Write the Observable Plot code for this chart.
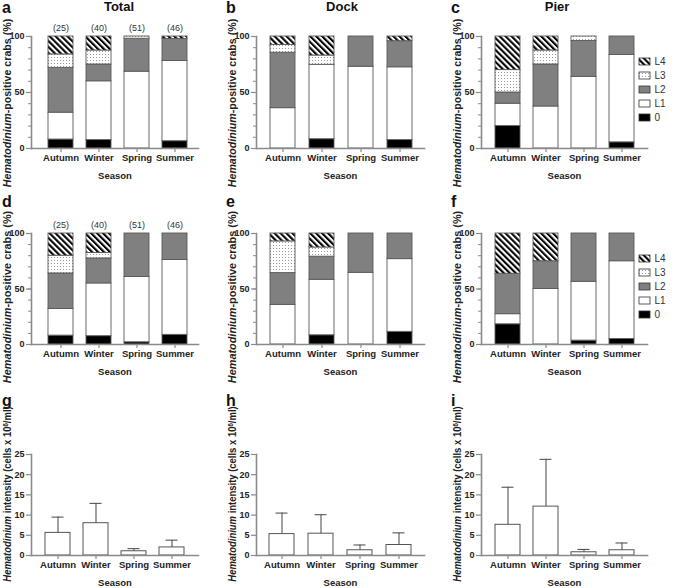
<!DOCTYPE html>
<html><head><meta charset="utf-8">
<script src="https://cdn.jsdelivr.net/npm/d3@7"></script>
<script src="https://cdn.jsdelivr.net/npm/@observablehq/plot@0.6"></script>
<style>
body{margin:0;background:#fff;font-family:Arial,"Liberation Sans",sans-serif;}
#root{position:relative;width:685px;height:588px;overflow:hidden;background:#fff;}
#root svg{position:absolute;overflow:visible;}
.letter{position:absolute;font-weight:bold;font-size:16px;color:#111;line-height:1;}
.title{position:absolute;font-weight:bold;font-size:13px;color:#111;line-height:1;transform:translate(-50%,0);white-space:nowrap;}
.ylab{position:absolute;white-space:nowrap;font-weight:bold;font-size:10px;color:#222;line-height:1;transform-origin:0 0;}
</style></head><body>
<svg width="0" height="0" style="position:absolute"><defs>
<pattern id="hatch" patternUnits="userSpaceOnUse" width="4.2" height="4.2" patternTransform="rotate(-45)"><rect width="4.2" height="4.2" fill="#fff"/><rect width="2.1" height="4.2" fill="#000"/></pattern>
<pattern id="dots" patternUnits="userSpaceOnUse" width="3" height="3"><rect width="3" height="3" fill="#fff"/><rect width="1" height="1" fill="#9a9a9a"/></pattern>
</defs></svg>
<div id="root"></div>
<script>
// ---------- data ----------
const seasons = ["Autumn", "Winter", "Spring", "Summer"];
const levels = ["0", "L1", "L2", "L3", "L4"];
const legendOrder = ["L4", "L3", "L2", "L1", "0"];
const levelFills = ["#000000", "#ffffff", "#808080", "url(#dots)", "url(#hatch)"];
const sampleSizes = [25, 40, 51, 46];

// % of Hematodinium-positive crabs per level [0, L1, L2, L3, L4], one row per season
const pctTotal1 = [[8, 24, 40, 12, 16], [7.5, 52.5, 15, 12.5, 12.5], [0, 68.6, 29.4, 2, 0], [6.5, 71.7, 19.6, 0, 2.2]];
const pctDock1  = [[0, 36, 49.5, 7, 7.5], [8.3, 66.4, 0, 8.3, 17], [0, 73, 27, 0, 0], [7.5, 65, 23.3, 0, 4.2]];
const pctPier1  = [[20, 20, 10, 20, 30], [0, 37.5, 37.5, 12.5, 12.5], [0, 64, 32, 4, 0], [5.5, 78, 16.5, 0, 0]];
const pctTotal2 = [[8, 24, 32, 16, 20], [7.5, 47.5, 22.5, 5, 17.5], [2, 58.8, 39.2, 0, 0], [8.7, 67.4, 23.9, 0, 0]];
const pctDock2  = [[0, 35.7, 28.6, 28.6, 7.1], [8.3, 50, 20.8, 8.3, 12.6], [0, 64.6, 35.4, 0, 0], [11.4, 65.5, 23.1, 0, 0]];
const pctPier2  = [[18.2, 9.1, 36.4, 0, 36.3], [0, 50, 25, 0, 25], [3.5, 53, 43.5, 0, 0], [5, 70, 25, 0, 0]];

// Hematodinium intensity (cells x 10^6/ml): mean and upper error bar end
const intTotalMean  = [5.6, 8.0, 1.05, 2.0];
const intTotalUpper = [9.5, 12.9, 1.7, 3.8];
const intDockMean   = [5.3, 5.4, 1.3, 2.6];
const intDockUpper  = [10.5, 10.1, 2.6, 5.6];
const intPierMean   = [7.6, 12.1, 0.8, 1.3];
const intPierUpper  = [16.9, 23.8, 1.5, 3.1];

// ---------- layout ----------
const FONT = "Arial, 'Liberation Sans', sans-serif";
const root = document.getElementById("root");
const colLeft = [0, 225, 450];
const colMarginRight = [2, 1, 3];
const colAlign = [0.6, 0.55, 0.5];
const rows = [
  {top: 0,   mt: 36, ph: 112, mb: 36, lo: 30},
  {top: 197, mt: 36, ph: 111, mb: 36, lo: 30},
  {top: 434, mt: 20, ph: 101, mb: 33, lo: 30}
];
const axisGray = "#8a8a8a";

function place(node, left, top) {
  node.style.left = left + "px";
  node.style.top = top + "px";
  root.appendChild(node);
}

function baseOptions(r, c) {
  const R = rows[r];
  return {
    width: 200, height: R.mt + R.ph + R.mb,
    marginLeft: 31, marginRight: colMarginRight[c], marginTop: R.mt, marginBottom: R.mb,
    style: {fontFamily: FONT, fontSize: "9px", fontWeight: "bold", color: "#222", background: "transparent"},
    x: {domain: seasons, paddingInner: 0.35, paddingOuter: 0.32, align: r === 2 ? 0.5 : colAlign[c]}
  };
}

function commonAxes(r) {
  return [
    Plot.axisX({tickSize: 4, stroke: axisGray, strokeWidth: 1.2, tickPadding: 2, label: "Season",
      labelAnchor: "center", labelOffset: rows[r].lo, fontSize: 9.5}),
    Plot.frame({anchor: "left", stroke: axisGray, strokeWidth: 1.6}),
    Plot.frame({anchor: "bottom", stroke: axisGray, strokeWidth: 1.6})
  ];
}

function stackedPanel(pct, r, c, showN) {
  const data = [];
  seasons.forEach((s, i) => levels.forEach((l, j) => {
    if (pct[i][j] > 0) data.push({season: s, level: l, value: pct[i][j]});
  }));
  const o = baseOptions(r, c);
  o.y = {domain: [0, 100]};
  o.color = {domain: levels, range: levelFills};
  o.marks = [
    Plot.barY(data, {x: "season", y: "value", fill: "level", stroke: "#5a5a5a", strokeWidth: 0.9}),
    Plot.axisY({ticks: d3.range(0, 101, 10), tickSize: 3, text: null, label: null, stroke: axisGray, strokeWidth: 1}),
    Plot.axisY({ticks: [0, 50, 100], tickSize: 5, tickPadding: 2, label: null, stroke: axisGray, strokeWidth: 1.2}),
    ...commonAxes(r)
  ];
  if (showN) {
    o.marks.push(Plot.text(sampleSizes, {x: (d, i) => seasons[i], y: 100, dy: -8, text: d => `(${d})`,
      fontWeight: "normal", fontSize: 9, fill: "#333"}));
  }
  place(Plot.plot(o), colLeft[c], rows[r].top);
}

function intensityPanel(mean, upper, c) {
  const r = 2;
  const data = seasons.map((s, i) => ({season: s, mean: mean[i], upper: upper[i]}));
  const o = baseOptions(r, c);
  o.y = {domain: [0, 25]};
  o.marks = [
    Plot.barY(data, {x: "season", y: "mean", fill: "white", stroke: "#555", strokeWidth: 1}),
    Plot.ruleX(data, {x: "season", y1: "mean", y2: "upper", stroke: "#555", strokeWidth: 1.1}),
    Plot.tickY(data, {x: "season", y: "upper", insetLeft: 6.5, insetRight: 6.5, stroke: "#555", strokeWidth: 1.1}),
    Plot.axisY({ticks: [0, 5, 10, 15, 20, 25], tickSize: 5, tickPadding: 2, label: null, stroke: axisGray, strokeWidth: 1.2}),
    ...commonAxes(r)
  ];
  place(Plot.plot(o), colLeft[c], rows[r].top);
}

function legendPanel(top) {
  const svg = Plot.plot({
    width: 49, height: 74, margin: 0,
    style: {fontFamily: FONT, fontSize: "10px", color: "#333", background: "transparent"},
    x: {domain: [0, 49], range: [0, 49], axis: null},
    y: {domain: legendOrder, paddingInner: 0.5, paddingOuter: 0.25, axis: null},
    color: {domain: levels, range: levelFills},
    marks: [
      Plot.barX(legendOrder, {x1: 3, x2: 14, y: d => d, fill: d => d, stroke: "#333", strokeWidth: 0.8}),
      Plot.text(legendOrder, {x: 18, y: d => d, text: d => d, textAnchor: "start", fill: "#333"})
    ]
  });
  place(svg, 636, top);
}

function html(cls, inner, left, top) {
  const d = document.createElement("div");
  d.className = cls;
  d.innerHTML = inner;
  place(d, left, top);
  return d;
}

// rotated y-axis title centred at (cx, cy), stretched to the reference length
function yTitle(inner, cx, cy, len) {
  const d = html("ylab", inner, cx, cy);
  const w = d.offsetWidth;
  const s = len / w;
  d.style.transform = `rotate(-90deg) scale(${s},1) translate(-50%,-50%)`;
}

// ---------- draw ----------
stackedPanel(pctTotal1, 0, 0, true);
stackedPanel(pctDock1, 0, 1, false);
stackedPanel(pctPier1, 0, 2, false);
stackedPanel(pctTotal2, 1, 0, true);
stackedPanel(pctDock2, 1, 1, false);
stackedPanel(pctPier2, 1, 2, false);
intensityPanel(intTotalMean, intTotalUpper, 0);
intensityPanel(intDockMean, intDockUpper, 1);
intensityPanel(intPierMean, intPierUpper, 2);
legendPanel(51.6);
legendPanel(248.6);

// titles and panel letters
html("title", "Total", 119, 0);
html("title", "Dock", 342, 0);
html("title", "Pier", 557, 0);
const letters = [["a", 2, 0], ["b", 226, 0], ["c", 451, 0], ["d", 2, 194], ["e", 226, 194], ["f", 451, 194], ["g", 2, 393], ["h", 226, 393], ["i", 451, 393]];
letters.forEach(([t, x, y]) => html("letter", t, x, y));

// y-axis titles
const crabsLab = "<i>Hematodinium</i>-positive crabs (%)";
const intLab = "<i>Hematodinium</i> intensity (cells x 10<sup style='font-size:6.5px;vertical-align:3px'>6</sup>/ml)";
colLeft.forEach(x0 => {
  yTitle(crabsLab, x0 + 8, 103, 168);
  yTitle(crabsLab, x0 + 8, 297, 172);
  yTitle(intLab, x0 + 8, 494, 175);
});
</script>
</body></html>
